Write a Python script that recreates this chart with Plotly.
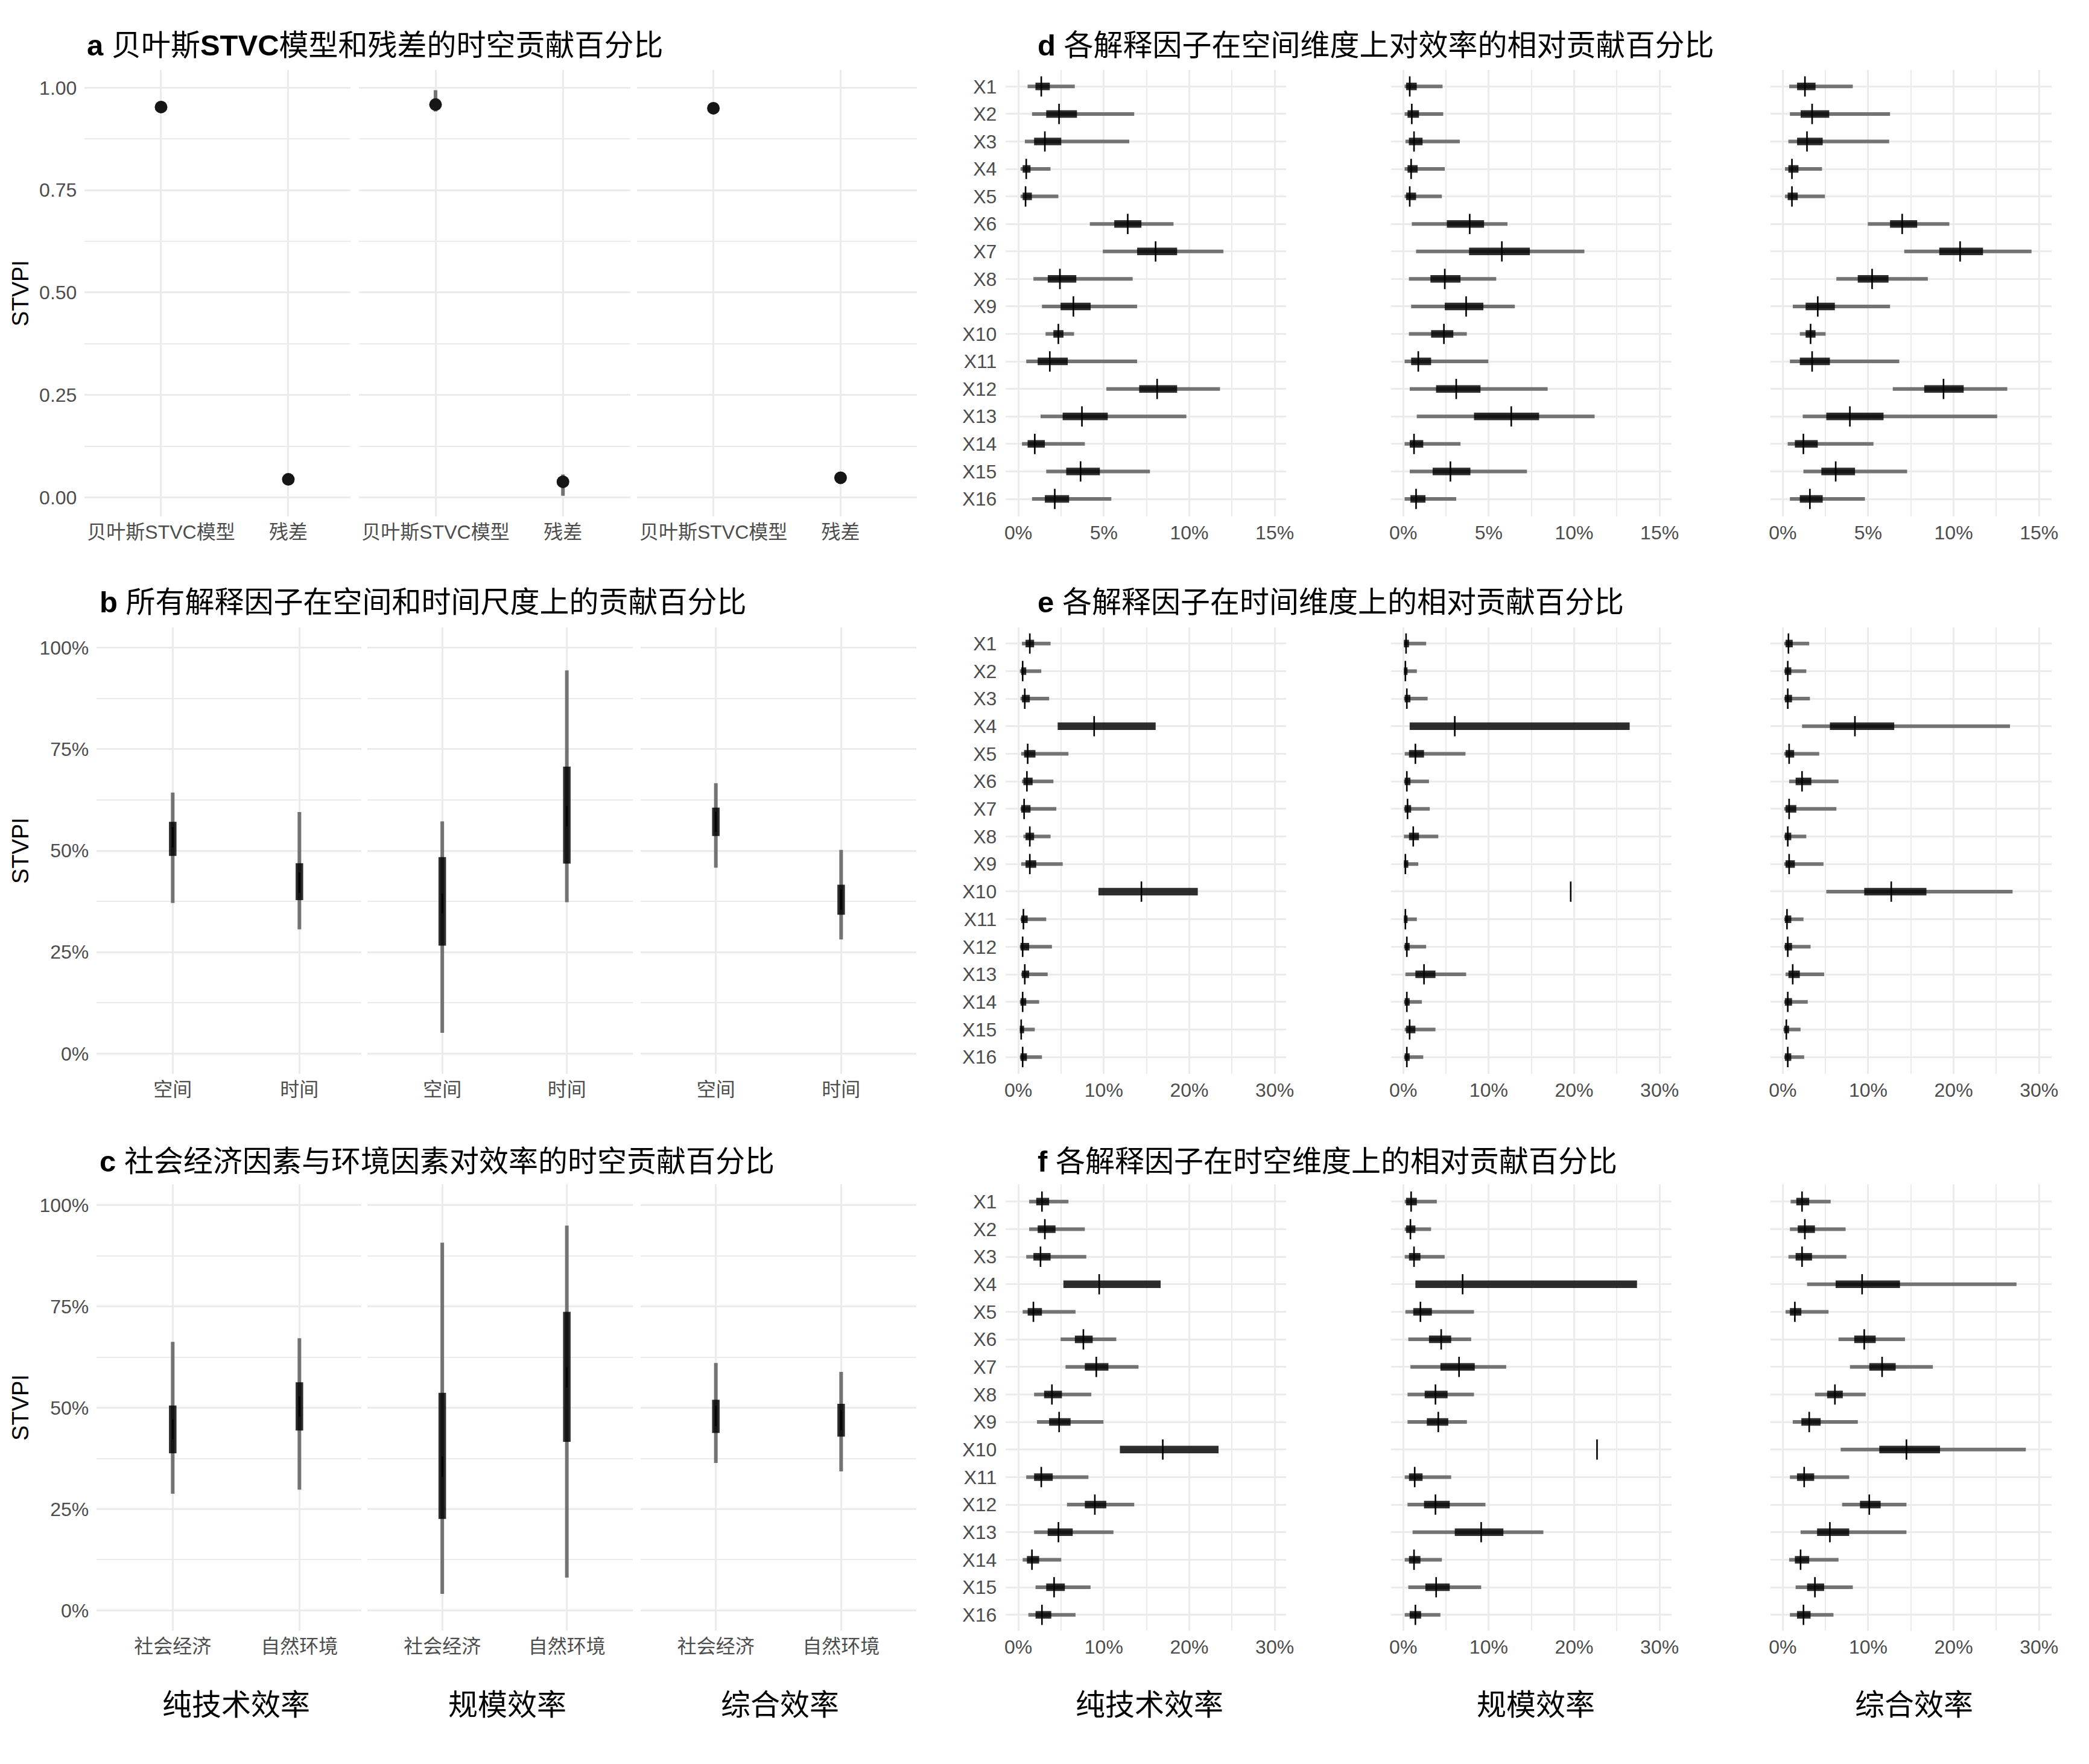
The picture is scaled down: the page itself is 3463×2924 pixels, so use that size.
import plotly.graph_objects as go

W, H = 3463, 2924
OFF = 8               # browser default body margin
FW, FH = W - 2 * OFF, H - 2 * OFF
RSHIFT = 8            # horizontal correction for the right column

# ---------------- data ----------------
facet_names = ["纯技术效率", "规模效率", "综合效率"]
factor_labels = ["X%d" % i for i in range(1, 17)]

# panel a (proportion)
a_cats = ["贝叶斯STVC模型", "残差"]
a1_lo95 = [0.945, 0.038]; a1_lo50 = [0.949, 0.041]; a1_med = [0.953, 0.044]; a1_hi50 = [0.957, 0.048]; a1_hi95 = [0.962, 0.054]
a2_lo95 = [0.942, 0.004]; a2_lo50 = [0.950, 0.028]; a2_med = [0.959, 0.038]; a2_hi50 = [0.970, 0.048]; a2_hi95 = [0.994, 0.056]
a3_lo95 = [0.944, 0.043]; a3_lo50 = [0.947, 0.046]; a3_med = [0.950, 0.048]; a3_hi50 = [0.954, 0.052]; a3_hi95 = [0.958, 0.056]

# panel b (%)
b_cats = ["空间", "时间"]
b1_lo95 = [37.1, 30.6]; b1_lo50 = [48.7, 37.8]; b1_med = [53.3, 42.1]; b1_hi50 = [57.1, 46.9]; b1_hi95 = [64.3, 59.5]
b2_lo95 = [5.1, 37.3];  b2_lo50 = [26.6, 46.8]; b2_med = [37.0, 58.5]; b2_hi50 = [48.4, 70.7]; b2_hi95 = [57.2, 94.4]
b3_lo95 = [45.8, 28.1]; b3_lo50 = [53.6, 34.2]; b3_med = [57.1, 37.9]; b3_hi50 = [60.6, 41.6]; b3_hi95 = [66.6, 50.2]

# panel c (%)
c_cats = ["社会经济", "自然环境"]
c1_lo95 = [28.8, 29.8]; c1_lo50 = [38.8, 44.4]; c1_med = [44.7, 50.3]; c1_hi50 = [50.6, 56.3]; c1_hi95 = [66.3, 67.2]
c2_lo95 = [4.1, 8.1];   c2_lo50 = [22.6, 41.6]; c2_med = [35.5, 57.5]; c2_hi50 = [53.7, 73.7]; c2_hi95 = [90.8, 95.0]
c3_lo95 = [36.4, 34.3]; c3_lo50 = [43.8, 42.9]; c3_med = [48.0, 47.0]; c3_hi50 = [52.0, 51.0]; c3_hi95 = [61.1, 58.9]

# panel d (%)
d1_lo95 = [0.54, 0.8, 0.38, 0.13, 0.13, 4.18, 4.94, 0.88, 1.38, 1.59, 0.46, 5.15, 1.3, 0.21, 1.63, 0.8]
d1_lo50 = [1.0, 1.63, 0.92, 0.25, 0.25, 5.61, 6.95, 1.72, 2.47, 2.05, 1.13, 7.07, 2.59, 0.54, 2.8, 1.55]
d1_med  = [1.34, 2.38, 1.55, 0.46, 0.42, 6.4, 8.03, 2.43, 3.22, 2.34, 1.84, 8.12, 3.72, 0.96, 3.64, 2.13]
d1_hi50 = [1.84, 3.43, 2.51, 0.71, 0.79, 7.2, 9.29, 3.39, 4.23, 2.64, 2.89, 9.29, 5.23, 1.55, 4.77, 2.97]
d1_hi95 = [3.3, 6.78, 6.49, 1.88, 2.34, 9.08, 12.0, 6.69, 6.95, 3.26, 6.95, 11.8, 9.83, 3.89, 7.7, 5.44]

d2_lo95 = [0.08, 0.08, 0.13, 0.08, 0.08, 0.5, 0.75, 0.33, 0.46, 0.33, 0.08, 0.38, 0.79, 0.08, 0.38, 0.08]
d2_lo50 = [0.17, 0.25, 0.33, 0.25, 0.17, 2.55, 3.85, 1.59, 2.43, 1.63, 0.46, 1.92, 4.14, 0.38, 1.72, 0.42]
d2_med  = [0.38, 0.5, 0.63, 0.46, 0.38, 3.89, 5.77, 2.43, 3.68, 2.38, 0.88, 3.1, 6.32, 0.63, 2.76, 0.75]
d2_hi50 = [0.79, 0.92, 1.13, 0.84, 0.75, 4.73, 7.41, 3.35, 4.69, 2.93, 1.63, 4.52, 7.95, 1.17, 3.93, 1.3]
d2_hi95 = [2.3, 2.34, 3.31, 2.43, 2.26, 6.1, 10.6, 5.44, 6.53, 3.72, 4.98, 8.45, 11.2, 3.35, 7.24, 3.1]

d3_lo95 = [0.38, 0.42, 0.33, 0.13, 0.13, 4.98, 7.11, 3.14, 0.59, 1.0, 0.42, 6.44, 1.17, 0.29, 1.21, 0.42]
d3_lo50 = [0.84, 1.05, 0.84, 0.33, 0.29, 6.28, 9.16, 4.39, 1.34, 1.34, 1.0, 8.28, 2.55, 0.71, 2.26, 1.0]
d3_med  = [1.3, 1.72, 1.42, 0.54, 0.54, 6.99, 10.38, 5.23, 2.05, 1.63, 1.72, 9.41, 3.93, 1.21, 3.1, 1.59]
d3_hi50 = [1.92, 2.72, 2.34, 0.92, 0.88, 7.87, 11.72, 6.19, 3.05, 1.92, 2.76, 10.59, 5.9, 2.05, 4.23, 2.34]
d3_hi95 = [4.1, 6.28, 6.23, 2.3, 2.47, 9.75, 14.56, 8.49, 6.28, 2.51, 6.82, 13.14, 12.55, 5.31, 7.28, 4.81]

# panel e (%)
e1_lo95 = [0.42, 0.17, 0.25, None, 0.33, 0.42, 0.25, 0.59, 0.33, None, 0.25, 0.17, 0.33, 0.17, 0.17, 0.17]
e1_lo50 = [0.84, 0.33, 0.42, 4.6, 0.67, 0.59, 0.33, 0.84, 0.84, 9.37, 0.33, 0.25, 0.42, 0.25, 0.17, 0.25]
e1_med  = [1.34, 0.5, 0.75, 8.87, 1.09, 1.0, 0.67, 1.34, 1.34, 14.4, 0.59, 0.5, 0.75, 0.5, 0.33, 0.5]
e1_hi50 = [1.84, 0.92, 1.34, 16.07, 2.0, 1.67, 1.42, 1.84, 2.09, 21.0, 1.09, 1.26, 1.26, 0.92, 0.67, 1.0]
e1_hi95 = [3.77, 2.68, 3.6, None, 5.86, 4.1, 4.44, 3.77, 5.19, None, 3.26, 3.93, 3.43, 2.43, 1.92, 2.76]

e2_lo95 = [0.08, 0.08, 0.08, None, 0.17, 0.08, 0.08, 0.08, 0.08, None, 0.08, 0.08, 0.25, 0.08, 0.17, 0.08]
e2_lo50 = [0.08, 0.08, 0.17, 0.75, 0.67, 0.17, 0.17, 0.67, 0.08, None, 0.08, 0.17, 1.42, 0.17, 0.33, 0.17]
e2_med  = [0.33, 0.25, 0.42, 6.03, 1.42, 0.42, 0.5, 1.17, 0.25, 19.6, 0.25, 0.42, 2.43, 0.42, 0.75, 0.42]
e2_hi50 = [0.67, 0.5, 0.84, 26.5, 2.43, 0.84, 0.92, 1.84, 0.59, None, 0.5, 0.75, 3.77, 0.75, 1.42, 0.75]
e2_hi95 = [2.68, 1.59, 2.85, None, 7.28, 3.01, 3.1, 4.1, 1.76, None, 1.59, 2.68, 7.36, 2.18, 3.77, 2.34]

e3_lo95 = [0.17, 0.17, 0.17, 2.26, 0.17, 0.75, 0.17, 0.17, 0.17, 5.1, 0.17, 0.17, 0.33, 0.17, 0.08, 0.17]
e3_lo50 = [0.33, 0.25, 0.25, 5.52, 0.33, 1.51, 0.33, 0.25, 0.33, 9.54, 0.25, 0.25, 0.67, 0.25, 0.17, 0.25]
e3_med  = [0.67, 0.59, 0.59, 8.45, 0.75, 2.26, 0.75, 0.59, 0.75, 12.7, 0.5, 0.59, 1.17, 0.59, 0.42, 0.59]
e3_hi50 = [1.17, 1.0, 1.09, 13.05, 1.34, 3.35, 1.59, 1.0, 1.42, 16.82, 1.0, 1.09, 2.0, 1.09, 0.75, 1.0]
e3_hi95 = [3.1, 2.76, 3.18, 26.6, 4.27, 6.53, 6.28, 2.76, 4.77, 26.9, 2.43, 3.26, 4.85, 2.93, 2.09, 2.51]

# panel f (%)
f1_lo95 = [1.26, 1.26, 0.92, None, 0.5, 4.94, 5.52, 1.84, 2.18, None, 0.92, 5.69, 1.84, 0.5, 2.01, 1.17]
f1_lo50 = [2.09, 2.26, 1.76, 5.27, 1.09, 6.61, 7.78, 3.01, 3.6, 11.88, 1.84, 7.78, 3.43, 1.0, 3.26, 2.01]
f1_med  = [2.76, 3.1, 2.59, 9.46, 1.76, 7.61, 9.12, 3.93, 4.77, 16.9, 2.68, 8.95, 4.69, 1.59, 4.18, 2.76]
f1_hi50 = [3.6, 4.35, 3.77, 16.65, 2.76, 8.7, 10.54, 5.1, 6.11, 23.43, 4.02, 10.29, 6.36, 2.43, 5.44, 3.85]
f1_hi95 = [5.86, 7.78, 7.95, None, 6.69, 11.46, 14.06, 8.54, 9.96, None, 8.2, 13.56, 11.13, 5.02, 8.45, 6.69]

f2_lo95 = [0.17, 0.17, 0.17, None, 0.25, 0.59, 0.84, 0.5, 0.5, None, 0.17, 0.5, 1.09, 0.17, 0.59, 0.17]
f2_lo50 = [0.33, 0.33, 0.67, 1.42, 1.17, 3.01, 4.35, 2.51, 2.76, None, 0.67, 2.43, 6.03, 0.67, 2.59, 0.75]
f2_med  = [0.92, 0.84, 1.26, 6.95, 2.01, 4.44, 6.53, 3.77, 4.1, 22.68, 1.34, 3.77, 9.12, 1.26, 3.85, 1.42]
f2_hi50 = [1.59, 1.42, 2.01, 27.36, 3.35, 5.61, 8.37, 5.19, 5.27, None, 2.26, 5.44, 11.72, 2.01, 5.44, 2.09]
f2_hi95 = [3.93, 3.26, 4.85, None, 8.28, 7.95, 12.05, 8.28, 7.45, None, 5.61, 9.62, 16.4, 4.52, 9.12, 4.35]

f3_lo95 = [0.92, 0.84, 0.67, 2.85, 0.33, 6.53, 7.87, 3.77, 1.17, 6.78, 0.84, 6.95, 2.09, 0.75, 1.51, 0.84]
f3_lo50 = [1.59, 1.76, 1.51, 6.19, 0.84, 8.37, 10.13, 5.19, 2.18, 11.3, 1.67, 9.04, 4.02, 1.42, 2.85, 1.67]
f3_med  = [2.26, 2.59, 2.26, 9.29, 1.42, 9.54, 11.63, 6.11, 3.1, 14.48, 2.51, 10.13, 5.52, 2.09, 3.77, 2.43]
f3_hi50 = [3.1, 3.77, 3.43, 13.72, 2.18, 10.88, 13.22, 7.03, 4.44, 18.41, 3.68, 11.46, 7.78, 3.1, 4.85, 3.26]
f3_hi95 = [5.61, 7.36, 7.45, 27.36, 5.36, 14.31, 17.57, 9.71, 8.79, 28.45, 7.78, 14.48, 14.48, 6.53, 8.2, 5.94]

titles = [
    "<b>a</b> 贝叶斯<b>STVC</b>模型和残差的时空贡献百分比",
    "<b>b</b> 所有解释因子在空间和时间尺度上的贡献百分比",
    "<b>c</b> 社会经济因素与环境因素对效率的时空贡献百分比",
    "<b>d</b> 各解释因子在空间维度上对效率的相对贡献百分比",
    "<b>e</b> 各解释因子在时间维度上的相对贡献百分比",
    "<b>f</b> 各解释因子在时空维度上的相对贡献百分比",
]

# ---------------- style ----------------
FONT = "Liberation Sans, Arial, Noto Sans CJK SC, sans-serif"
TICKFONT = dict(family=FONT, size=32, color="#4D4D4D")
GRID = "#EBEBEB"
OUTER = "#737373"
INNER = "rgba(0,0,0,0.82)"


def fx(px):
    return (px - OFF) / FW


def fy(py):
    return 1 - (py - OFF) / FH


fig = go.Figure()
layout = {}
counter = [0]


def add_axes(xdom, ydom, xr, yr, xopt, yopt):
    counter[0] += 1
    n = counter[0]
    sfx = "" if n == 1 else str(n)
    base = dict(showline=False, zeroline=False, ticks="", gridcolor=GRID, gridwidth=3,
                tickfont=TICKFONT, fixedrange=True)
    xa = dict(base, domain=[fx(xdom[0]), fx(xdom[1])], range=xr, anchor="y" + sfx, **xopt)
    ya = dict(base, domain=[fy(ydom[1]), fy(ydom[0])], range=yr, anchor="x" + sfx, **yopt)
    layout["xaxis" + sfx] = xa
    layout["yaxis" + sfx] = ya
    return "x" + sfx, "y" + sfx


def seg(pos, lo, hi, horizontal):
    a, b = [], []
    for p, l, h in zip(pos, lo, hi):
        if l is None or h is None:
            continue
        if horizontal:
            a += [l, h, None]; b += [p, p, None]
        else:
            a += [p, p, None]; b += [l, h, None]
    return a, b


def draw(xa, ya, pos, lo95, lo50, med, hi50, hi95, horizontal, dot=False):
    for lo, hi, col, w in [(lo95, hi95, OUTER, 6), (lo50, hi50, INNER, 12.5)]:
        xs, ys = seg(pos, lo, hi, horizontal)
        fig.add_trace(go.Scatter(x=xs, y=ys, mode="lines", line=dict(color=col, width=w),
                                 xaxis=xa, yaxis=ya, hoverinfo="skip", showlegend=False))
    if horizontal:
        mx, my = med, pos
    else:
        mx, my = pos, med
    if dot:
        mk = dict(symbol="circle", size=21, color="#161616", line=dict(width=0))
    else:
        mk = dict(symbol="line-ns", size=24, color="black", line=dict(width=2.6, color="black"))
    fig.add_trace(go.Scatter(x=mx, y=my, mode="markers", marker=mk, xaxis=xa, yaxis=ya,
                             hoverinfo="skip", showlegend=False))


# ---------------- left column (a, b, c) ----------------
a_xdoms = [(138, 581), (595, 1047), (1058, 1524)]
bc_xdoms = [(158, 599), (609, 1051), (1064, 1523)]
cat_ranges = [[-0.6, 1.49], [-0.6, 1.53], [-0.6, 1.6]]

a_sets = [(a1_lo95, a1_lo50, a1_med, a1_hi50, a1_hi95),
          (a2_lo95, a2_lo50, a2_med, a2_hi50, a2_hi95),
          (a3_lo95, a3_lo50, a3_med, a3_hi50, a3_hi95)]
b_sets = [(b1_lo95, b1_lo50, b1_med, b1_hi50, b1_hi95),
          (b2_lo95, b2_lo50, b2_med, b2_hi50, b2_hi95),
          (b3_lo95, b3_lo50, b3_med, b3_hi50, b3_hi95)]
c_sets = [(c1_lo95, c1_lo50, c1_med, c1_hi50, c1_hi95),
          (c2_lo95, c2_lo50, c2_med, c2_hi50, c2_hi95),
          (c3_lo95, c3_lo50, c3_med, c3_hi50, c3_hi95)]

left_panels = [
    (a_cats, a_sets, a_xdoms, (116, 856), [-0.0464, 1.0434],
     [0, 0.25, 0.5, 0.75, 1.0], ["0.00", "0.25", "0.50", "0.75", "1.00"], [0.125, 0.375, 0.625, 0.875], True),
    (b_cats, b_sets, bc_xdoms, (1040, 1780), [-5.0, 105.0],
     [0, 25, 50, 75, 100], ["0%", "25%", "50%", "75%", "100%"], [12.5, 37.5, 62.5, 87.5], False),
    (c_cats, c_sets, bc_xdoms, (1963, 2703), [-5.0, 105.2],
     [0, 25, 50, 75, 100], ["0%", "25%", "50%", "75%", "100%"], [12.5, 37.5, 62.5, 87.5], False),
]

for cats, sets, xdoms, ydom, yr, yt, ytt, ymin, isdot in left_panels:
    for k in range(3):
        xo = dict(tickmode="array", tickvals=[0, 1], ticktext=cats, showgrid=True, ticklabelstandoff=4)
        yo = dict(tickmode="array", tickvals=yt, ticktext=ytt, showgrid=True,
                  showticklabels=(k == 0), ticklabelstandoff=12,
                  minor=dict(tickmode="array", tickvals=ymin, showgrid=True, gridcolor=GRID, gridwidth=1.8))
        xa, ya = add_axes(xdoms[k], ydom, cat_ranges[k], yr, xo, yo)
        lo95, lo50, med, hi50, hi95 = sets[k]
        draw(xa, ya, [0, 1], lo95, lo50, med, hi50, hi95, horizontal=False, dot=isdot)

# ---------------- right column (d, e, f) ----------------
r_xdoms = [(1664 + RSHIFT, 2131 + RSHIFT), (2306 + RSHIFT, 2773 + RSHIFT), (2938 + RSHIFT, 3406 + RSHIFT)]
d_ranges = [[-0.738, 15.671], [-0.703, 15.706], [-0.703, 15.741]]
ef_ranges = [[2 * r[0], 2 * r[1]] for r in d_ranges]
rows = list(range(1, 17))

d_sets = [(d1_lo95, d1_lo50, d1_med, d1_hi50, d1_hi95),
          (d2_lo95, d2_lo50, d2_med, d2_hi50, d2_hi95),
          (d3_lo95, d3_lo50, d3_med, d3_hi50, d3_hi95)]
e_sets = [(e1_lo95, e1_lo50, e1_med, e1_hi50, e1_hi95),
          (e2_lo95, e2_lo50, e2_med, e2_hi50, e2_hi95),
          (e3_lo95, e3_lo50, e3_med, e3_hi50, e3_hi95)]
f_sets = [(f1_lo95, f1_lo50, f1_med, f1_hi50, f1_hi95),
          (f2_lo95, f2_lo50, f2_med, f2_hi50, f2_hi95),
          (f3_lo95, f3_lo50, f3_med, f3_hi50, f3_hi95)]

right_panels = [
    (d_sets, (116, 856), d_ranges, [0, 5, 10, 15], 2.5, [16.636, 0.401]),
    (e_sets, (1040, 1780), ef_ranges, [0, 10, 20, 30], 5.0, [16.61, 0.416]),
    (f_sets, (1963, 2703), ef_ranges, [0, 10, 20, 30], 5.0, [16.576, 0.369]),
]

for sets, ydom, xranges, xt, xminor, yr in right_panels:
    for k in range(3):
        xo = dict(tickmode="array", tickvals=xt, ticktext=["%d%%" % v for v in xt], showgrid=True,
                  ticklabelstandoff=5,
                  minor=dict(tickmode="array", tickvals=[v + xminor for v in xt[:-1]],
                             showgrid=True, gridcolor=GRID, gridwidth=1.8))
        yo = dict(tickmode="array", tickvals=rows, ticktext=factor_labels, showgrid=True,
                  showticklabels=(k == 0), ticklabelstandoff=14)
        xa, ya = add_axes(r_xdoms[k], ydom, xranges[k], yr, xo, yo)
        lo95, lo50, med, hi50, hi95 = sets[k]
        draw(xa, ya, rows, lo95, lo50, med, hi50, hi95, horizontal=True)

# ---------------- annotations ----------------
ann = []
title_pos = [(140, 75), (161, 998), (161, 1925),
             (1715 + RSHIFT, 75), (1715 + RSHIFT, 998), (1715 + RSHIFT, 1925)]
for t, (px, py) in zip(titles, title_pos):
    ann.append(dict(text=t, x=fx(px), y=fy(py), xref="paper", yref="paper",
                    xanchor="left", yanchor="middle", showarrow=False,
                    font=dict(family=FONT, size=49, color="black")))
for py in (486, 1410, 2333):
    ann.append(dict(text="STVPI", x=fx(31), y=fy(py), xref="paper", yref="paper",
                    xanchor="center", yanchor="middle", textangle=-90, showarrow=False,
                    font=dict(family=FONT, size=38, color="black")))
for nm, px in zip(facet_names, (390, 842, 1296)):
    ann.append(dict(text=nm, x=fx(px), y=fy(2826), xref="paper", yref="paper",
                    xanchor="center", yanchor="middle", showarrow=False,
                    font=dict(family=FONT, size=49, color="black")))
for nm, px in zip(facet_names, (1903, 2547, 3177)):
    ann.append(dict(text=nm, x=fx(px + RSHIFT), y=fy(2826), xref="paper", yref="paper",
                    xanchor="center", yanchor="middle", showarrow=False,
                    font=dict(family=FONT, size=49, color="black")))

fig.update_layout(**layout)
fig.update_layout(width=FW, height=FH, margin=dict(l=0, r=0, t=0, b=0),
                  paper_bgcolor="white", plot_bgcolor="white", showlegend=False,
                  annotations=ann, font=dict(family=FONT))

fig.write_html("out.html", include_plotlyjs=True, config={"displayModeBar": False})
